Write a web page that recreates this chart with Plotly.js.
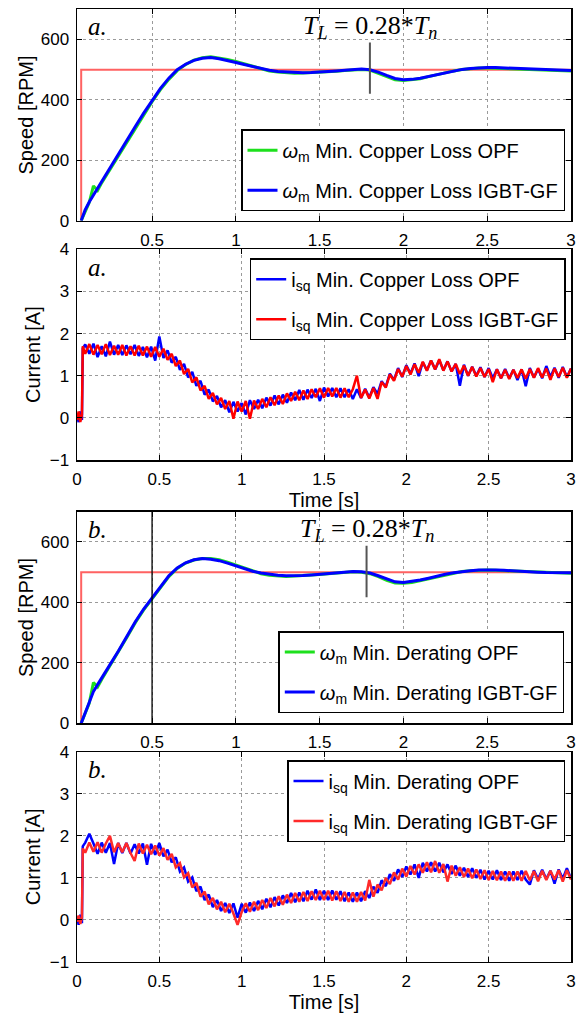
<!DOCTYPE html>
<html>
<head>
<meta charset="utf-8">
<script src="https://cdn.plot.ly/plotly-3.0.1.min.js"></script>
<style>html,body{margin:0;padding:0;background:#fff;}#chart{width:582px;height:1014px;}</style>
</head>
<body>
<div id="chart"></div>
<script>
// ---------- DATA ----------
// Speed time grid [s]
const tSpeed = [0.077,0.1,0.125,0.15,0.175,0.2,0.25,0.3,0.35,0.4,0.45,0.5,0.55,0.6,0.65,0.7,0.75,0.8,0.85,0.9,0.95,1.0,1.05,1.1,1.15,1.2,1.25,1.3,1.35,1.4,1.45,1.5,1.55,1.6,1.65,1.7,1.75,1.8,1.85,1.9,1.95,2.0,2.05,2.1,2.15,2.2,2.25,2.3,2.35,2.4,2.45,2.5,2.55,2.6,2.65,2.7,2.75,2.8,2.85,2.9,2.95,3.0];
// Panel a: speed [RPM]
const speedA_OPF  = [0,30,60,115,100,126,171,217,262,308,352,394,434,468,497,517,532,540,543,539,534,527,519,511,502,496,492,489,488,489,490,491,493,495,497,499,501,499,489,477,467,464,466,470,477,484,490,496,501,504,506,506,505,504,503,501,500,499,499,497,496,496];
const speedA_IGBT = [0,35,62,85,107,130,174,220,266,312,356,398,438,472,500,518,531,538,540,536,531,524,517,510,503,498,494,492,491,490,491,492,494,496,498,501,502,500,492,481,471,467,468,472,478,485,491,497,501,504,506,507,507,506,504,503,501,500,499,498,498,497];
// Panel b: speed [RPM]
const speedB_OPF  = [0,33,66,135,120,146,191,237,285,333,375,412,449,485,512,530,540,545,545,541,533,523,513,503,495,490,487,486,487,488,490,492,495,497,499,501,500,495,485,473,464,463,466,472,479,486,492,497,502,505,507,507,506,505,503,501,500,499,498,497,496,496];
const speedB_IGBT = [0,35,68,105,128,150,194,240,288,336,378,416,452,488,514,531,541,545,543,538,530,521,511,503,497,493,490,488,488,489,491,493,496,498,500,502,501,497,488,477,468,466,469,474,480,487,493,498,502,505,507,508,507,506,504,502,501,500,499,498,498,498];
// Speed reference
const refTime  = [0.077,0.077,3.0];
const refSpeed = [0,500,500];

// Current time grid [s]
const tCurrent = [0,0.01,0.02,0.03,0.035,0.05,0.075,0.1,0.125,0.15,0.175,0.2,0.225,0.25,0.275,0.3,0.325,0.35,0.375,0.4,0.425,0.45,0.475,0.5,0.525,0.55,0.575,0.6,0.625,0.65,0.675,0.7,0.725,0.75,0.775,0.8,0.825,0.85,0.875,0.9,0.925,0.95,0.975,1.0,1.025,1.05,1.075,1.1,1.125,1.15,1.175,1.2,1.225,1.25,1.275,1.3,1.325,1.35,1.375,1.4,1.425,1.45,1.475,1.5,1.525,1.55,1.575,1.6,1.625,1.65,1.675,1.7,1.725,1.75,1.775,1.8,1.825,1.85,1.875,1.9,1.925,1.95,1.975,2.0,2.025,2.05,2.075,2.1,2.125,2.15,2.175,2.2,2.225,2.25,2.275,2.3,2.325,2.35,2.375,2.4,2.425,2.45,2.475,2.5,2.525,2.55,2.575,2.6,2.625,2.65,2.675,2.7,2.725,2.75,2.775,2.8,2.825,2.85,2.875,2.9,2.925,2.95,2.975,3.0];
// Panel a: i_sq [A]
const currentA_OPF  = [0.05,-0.1,0.15,-0.05,1.65,1.74,1.52,1.76,1.44,1.70,1.46,1.81,1.50,1.73,1.49,1.72,1.51,1.73,1.47,1.68,1.44,1.69,1.36,1.93,1.42,1.60,1.31,1.45,1.14,1.28,0.96,1.09,0.76,0.88,0.55,0.67,0.39,0.52,0.25,0.42,0.13,0.38,0.15,0.35,0.08,0.42,0.21,0.43,0.23,0.48,0.29,0.53,0.32,0.55,0.36,0.60,0.42,0.66,0.43,0.67,0.47,0.69,0.40,0.72,0.51,0.71,0.49,0.70,0.49,0.68,0.45,0.68,0.47,0.69,0.48,0.73,0.57,0.87,0.74,1.05,0.90,1.18,0.97,1.25,1.05,1.29,0.99,1.32,1.13,1.36,1.15,1.37,1.13,1.34,1.10,1.28,0.76,1.26,1.00,1.21,1.00,1.20,0.97,1.18,0.94,1.15,0.94,1.16,0.94,1.14,0.90,1.15,0.75,1.18,0.96,1.16,0.94,1.23,0.97,1.19,0.95,1.21,0.97,1.17];
const currentA_IGBT = [-0.05,0.15,-0.1,0.08,1.7,1.52,1.75,1.50,1.73,1.51,1.75,1.49,1.71,1.50,1.73,1.48,1.70,1.48,1.71,1.48,1.69,1.45,1.68,1.45,1.64,1.38,1.52,1.23,1.36,1.04,1.16,0.84,0.96,0.65,0.76,0.45,0.59,0.32,0.47,0.21,0.40,-0.02,0.39,0.15,0.40,-0.02,0.41,0.21,0.45,0.25,0.49,0.30,0.53,0.33,0.58,0.40,0.62,0.42,0.65,0.45,0.68,0.49,0.70,0.48,0.71,0.51,0.71,0.48,0.70,0.49,0.68,1.00,0.47,0.67,0.46,0.71,0.45,0.85,0.72,1.03,0.88,1.16,0.98,1.23,1.03,1.27,1.07,1.33,1.12,1.36,1.15,1.39,1.12,1.34,1.10,1.28,1.04,1.24,1.00,1.21,0.98,1.18,0.97,1.16,0.85,1.15,0.94,1.14,0.92,1.14,0.95,1.15,0.93,1.16,0.95,1.18,0.96,1.17,0.90,1.17,0.97,1.19,0.95,1.17];
// Panel b: i_sq [A]
const currentB_OPF  = [0.08,-0.12,0.12,-0.08,1.75,1.84,2.05,1.82,1.57,1.84,1.60,1.83,1.33,1.83,1.59,1.83,1.58,1.80,1.58,1.82,1.31,1.81,1.55,1.83,1.51,1.67,1.37,1.49,1.15,1.25,0.91,1.01,0.68,0.79,0.47,0.60,0.30,0.47,0.21,0.40,0.16,0.39,0.05,0.38,0.17,0.41,0.21,0.45,0.25,0.50,0.30,0.54,0.34,0.58,0.40,0.64,0.42,0.65,0.44,0.69,0.48,0.72,0.47,0.69,0.47,0.70,0.48,0.68,0.44,0.65,0.43,0.65,0.44,0.68,0.52,0.79,0.64,0.94,0.80,1.09,0.93,1.20,1.02,1.27,1.08,1.32,1.00,1.36,1.15,1.37,1.15,1.36,1.13,1.32,1.09,1.29,1.05,1.24,1.02,1.23,1.00,1.19,0.96,1.17,0.96,1.18,0.95,1.15,0.93,1.15,0.95,1.17,0.96,0.84,1.18,0.97,1.19,0.97,1.17,0.86,1.20,0.98,1.23,0.98];
const currentB_IGBT = [-0.05,0.1,-0.1,0.06,1.7,1.60,1.84,1.62,1.85,1.60,1.82,2.00,1.61,1.83,1.61,1.83,1.59,1.40,1.82,1.58,1.79,1.56,1.77,1.53,1.71,1.43,1.57,1.25,1.35,1.01,1.11,0.77,0.88,0.55,0.67,0.37,0.52,0.25,0.43,0.18,0.38,0.15,-0.12,0.18,0.39,0.19,0.43,0.23,0.47,0.28,0.52,0.32,0.56,0.36,0.60,0.40,0.64,0.43,0.66,0.45,0.68,0.47,0.69,0.47,0.69,0.46,0.68,0.45,0.66,0.43,0.65,0.43,0.66,0.46,0.95,0.55,0.84,0.70,1.00,0.85,1.13,0.96,1.22,1.03,1.28,1.08,1.32,1.12,1.37,1.13,1.40,1.12,1.33,0.91,1.29,1.05,1.25,1.02,1.22,0.99,1.20,0.97,1.18,0.95,1.16,0.94,1.15,0.93,1.15,0.93,1.15,0.93,1.16,0.94,1.16,0.92,1.17,0.95,1.17,0.96,1.18,0.91,1.18,0.96];

// Load-step marker (time, speed span)
const loadStepTime = [1.80, 1.78];
const loadStepSpan = [[420, 590], [417, 587]];
const markerLineTime = 0.5; // black vertical line in panel b speed

// Tick labels
const speedXTicks = [0.5,1,1.5,2,2.5,3];
const currentXTicks = [0,0.5,1,1.5,2,2.5,3];
const speedYTicks = [0,200,400,600];
const currentYTicks = [-1,0,1,2,3,4];

// Legend labels
const namesA = ['<i>ω</i><sub>m</sub> Min. Copper Loss OPF','<i>ω</i><sub>m</sub> Min. Copper Loss IGBT-GF',
                'i<sub>sq</sub> Min. Copper Loss OPF','i<sub>sq</sub> Min. Copper Loss IGBT-GF'];
const namesB = ['<i>ω</i><sub>m</sub> Min. Derating OPF','<i>ω</i><sub>m</sub> Min. Derating IGBT-GF',
                'i<sub>sq</sub> Min. Derating OPF','i<sub>sq</sub> Min. Derating IGBT-GF'];

// ---------- STYLE ----------
const GREEN = '#1de01d', BLUE = '#0000ff', RED = '#ff0000', REF = '#ff6262';
const SANS = 'Liberation Sans, Arial, sans-serif';
const SERIF = 'Liberation Serif, Times New Roman, serif';
const CW = 2.5; // current line width

const traces = [
  // panel 1
  {x: refTime, y: refSpeed, xaxis:'x', yaxis:'y', mode:'lines', line:{color:REF, width:2}, showlegend:false, hoverinfo:'skip'},
  {x: tSpeed, y: speedA_OPF, xaxis:'x', yaxis:'y', mode:'lines', name:namesA[0], line:{color:GREEN, width:3}, legend:'legend', legendgroup:'a1'},
  {x: tSpeed, y: speedA_IGBT, xaxis:'x', yaxis:'y', mode:'lines', name:namesA[1], line:{color:BLUE, width:3}, legend:'legend', legendgroup:'a2'},
  // panel 2
  {x: tCurrent, y: currentA_OPF, xaxis:'x2', yaxis:'y2', mode:'lines', name:namesA[2], line:{color:BLUE, width:CW, simplify:false}, legend:'legend2', legendgroup:'b1'},
  {x: tCurrent, y: currentA_IGBT, xaxis:'x2', yaxis:'y2', mode:'lines', name:namesA[3], line:{color:RED, width:CW, simplify:false}, legend:'legend2', legendgroup:'b2'},
  // panel 3
  {x: refTime, y: refSpeed, xaxis:'x3', yaxis:'y3', mode:'lines', line:{color:REF, width:2}, showlegend:false, hoverinfo:'skip'},
  {x: tSpeed, y: speedB_OPF, xaxis:'x3', yaxis:'y3', mode:'lines', name:namesB[0], line:{color:GREEN, width:3}, legend:'legend3', legendgroup:'c1'},
  {x: tSpeed, y: speedB_IGBT, xaxis:'x3', yaxis:'y3', mode:'lines', name:namesB[1], line:{color:BLUE, width:3}, legend:'legend3', legendgroup:'c2'},
  // panel 4
  {x: tCurrent, y: currentB_OPF, xaxis:'x4', yaxis:'y4', mode:'lines', name:namesB[2], line:{color:BLUE, width:CW, simplify:false}, legend:'legend4', legendgroup:'d1'},
  {x: tCurrent, y: currentB_IGBT, xaxis:'x4', yaxis:'y4', mode:'lines', name:namesB[3], line:{color:'#ff2a2a', width:CW, simplify:false}, legend:'legend4', legendgroup:'d2'}
];

function xax(anchor, range, ticks, title) {
  const a = {anchor: anchor, domain:[0,1], range: range, tickmode:'array', tickvals: ticks,
    showline:true, linecolor:'#000', linewidth:1.5, mirror:'allticks', ticks:'inside', ticklen:5, tickcolor:'#000',
    showgrid:true, gridcolor:'#9a9a9a', griddash:'dot', gridwidth:1, zeroline:false,
    tickfont:{family:SANS, size:17, color:'#000'}, ticklabelstandoff:3};
  if (title) a.title = {text:title, font:{family:SANS, size:20, color:'#000'}, standoff:2};
  return a;
}
function yax(anchor, domain, range, ticks, title, standoff) {
  return {anchor: anchor, domain: domain, range: range, tickmode:'array', tickvals: ticks,
    showline:true, linecolor:'#000', linewidth:1.5, mirror:'allticks', ticks:'inside', ticklen:5, tickcolor:'#000',
    showgrid:true, gridcolor:'#9a9a9a', griddash:'dot', gridwidth:1, zeroline:false,
    tickfont:{family:SANS, size:17, color:'#000'}, ticklabelstandoff:3,
    title:{text:title, font:{family:SANS, size:20, color:'#000'}, standoff:standoff}};
}
function leg(xr, ytop) {
  return {x:xr, xanchor:'right', y:ytop, yanchor:'top', bgcolor:'#fff', bordercolor:'#000', borderwidth:1.5,
    font:{family:SANS, size:20, color:'#000'}, tracegroupgap:11, traceorder:'grouped'};
}

const H = 1014;
const layout = {
  width:582, height:1014, margin:{l:77, r:11, t:0, b:0}, paper_bgcolor:'#fff', plot_bgcolor:'#fff',
  showlegend:true,
  xaxis: xax('y', [0.052,3], speedXTicks, null),
  yaxis: yax('x', [1-220.7/H, 1-9.3/H], [0,700], speedYTicks, 'Speed [RPM]', 1),
  xaxis2: xax('y2', [0,3], currentXTicks, 'Time [s]'),
  yaxis2: yax('x2', [1-460/H, 1-249.3/H], [-1,4], currentYTicks, 'Current [A]', 3),
  xaxis3: xax('y3', [0.052,3], speedXTicks, null),
  yaxis3: yax('x3', [1-723.3/H, 1-511.7/H], [0,700], speedYTicks, 'Speed [RPM]', 1),
  xaxis4: xax('y4', [0,3], currentXTicks, 'Time [s]'),
  yaxis4: yax('x4', [1-961.7/H, 1-752/H], [-1,4], currentYTicks, 'Current [A]', 3),
  legend:  leg((565-77)/494, 1-129.3/H),
  legend2: leg((565.7-77)/494, 1-258.3/H),
  legend3: leg((564.3-77)/494, 1-631/H),
  legend4: leg((565-77)/494, 1-760/H),
  shapes: [
    {type:'line', xref:'x', yref:'y', x0:loadStepTime[0], x1:loadStepTime[0], y0:loadStepSpan[0][0], y1:loadStepSpan[0][1], line:{color:'#555', width:2}},
    {type:'line', xref:'x3', yref:'y3', x0:loadStepTime[1], x1:loadStepTime[1], y0:loadStepSpan[1][0], y1:loadStepSpan[1][1], line:{color:'#555', width:2}},
    {type:'line', xref:'x3', yref:'y3 domain', x0:markerLineTime, x1:markerLineTime, y0:0, y1:1, line:{color:'#000', width:1.3}}
  ],
  annotations: [
    {xref:'x domain', yref:'y domain', x:0.018, y:0.92, xanchor:'left', yanchor:'middle', showarrow:false, text:'<i>a.</i>', font:{family:SERIF, size:25, color:'#000'}},
    {xref:'x2 domain', yref:'y2 domain', x:0.018, y:0.915, xanchor:'left', yanchor:'middle', showarrow:false, text:'<i>a.</i>', font:{family:SERIF, size:25, color:'#000'}},
    {xref:'x3 domain', yref:'y3 domain', x:0.018, y:0.915, xanchor:'left', yanchor:'middle', showarrow:false, text:'<i>b.</i>', font:{family:SERIF, size:25, color:'#000'}},
    {xref:'x4 domain', yref:'y4 domain', x:0.018, y:0.915, xanchor:'left', yanchor:'middle', showarrow:false, text:'<i>b.</i>', font:{family:SERIF, size:25, color:'#000'}},
    {xref:'x', yref:'y domain', x:loadStepTime[0], y:0.915, xanchor:'center', yanchor:'middle', showarrow:false,
     text:'<i>T</i><sub><i>L</i></sub> = 0.28*<i>T</i><sub><i>n</i></sub>', font:{family:SERIF, size:26, color:'#000'}},
    {xref:'x3', yref:'y3 domain', x:loadStepTime[1], y:0.915, xanchor:'center', yanchor:'middle', showarrow:false,
     text:'<i>T</i><sub><i>L</i></sub> = 0.28*<i>T</i><sub><i>n</i></sub>', font:{family:SERIF, size:26, color:'#000'}}
  ]
};

Plotly.newPlot('chart', traces, layout, {staticPlot:true, displayModeBar:false});
</script>
</body>
</html>
